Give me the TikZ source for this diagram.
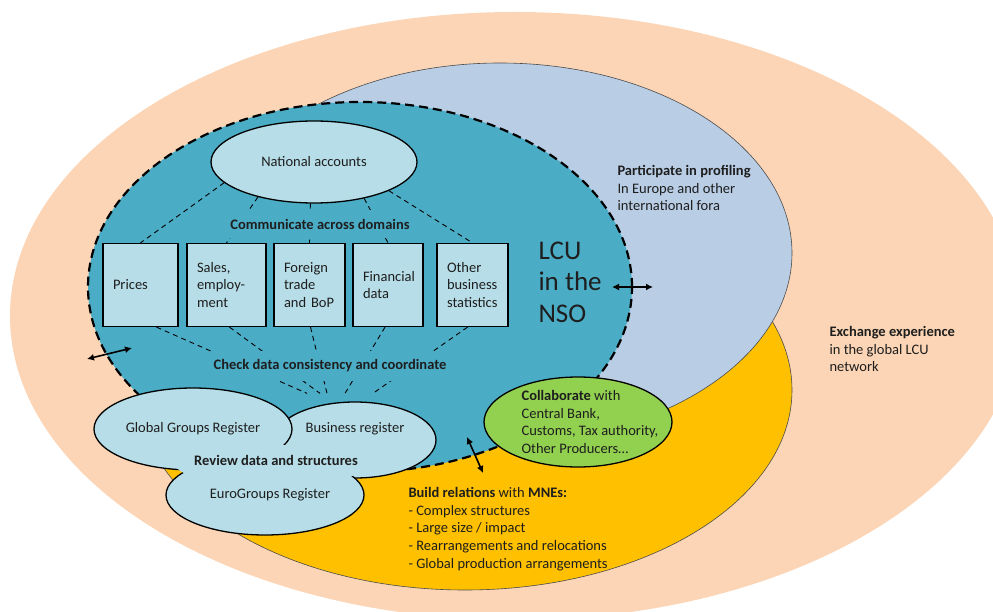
\documentclass[tikz,border=0pt]{standalone}
\usepackage{fontspec}
\setmainfont{Carlito}
\usepackage{tikz}
\usetikzlibrary{shapes.geometric, arrows.meta}

\definecolor{peach}{HTML}{FBD5B5}
\definecolor{bluegray}{HTML}{B9CDE5}
\definecolor{amber}{HTML}{FFC000}
\definecolor{teal}{HTML}{4BACC6}
\definecolor{lteal}{HTML}{B7DEE8}
\definecolor{lgreen}{HTML}{92D050}
\definecolor{txt}{HTML}{1E1E1E}

\begin{document}
\begin{tikzpicture}[x=1pt, y=-1pt, >={Latex[length=7pt, width=7pt]}, text=txt,
	font=\fontsize{14.5}{17.8}\selectfont,
	regell/.style={ellipse, draw=black, line width=1.3pt, fill=lteal, inner sep=0pt},
	dombox/.style={rectangle, draw=black, line width=1.3pt, fill=lteal, minimum height=83pt, inner xsep=10pt, inner ysep=0pt, align=left},
	conn/.style={black, line width=0.9pt, dash pattern=on 5pt off 4pt},
	mask/.style={fill=teal, font=\fontsize{14.5}{17.8}\selectfont\bfseries, inner xsep=2pt, inner ysep=9pt},
	twoway/.style={<->, black, line width=1.6pt}]
			\useasboundingbox (0,0) rectangle (993,612);
			
			% Rings
			\fill[peach] (515,316) ellipse [x radius=505pt, y radius=304pt];
			\draw[black!70, line width=0.6pt, fill=amber] (465,390) ellipse [x radius=327pt, y radius=200pt];
			\draw[black!70, line width=0.6pt, fill=bluegray] (500,253) ellipse [x radius=292pt, y radius=190pt];
			\draw[black, line width=2.2pt, dash pattern=on 9pt off 5pt, fill=teal] (360,287) ellipse [x radius=272pt, y radius=185pt];
			
			% Domains
			\node[regell, minimum width=206pt, minimum height=82pt] (na) at (314,162) {National accounts};
			\node[dombox, text width=55pt] (prices) at (140.5,285) {Prices};
			\node[dombox, text width=59pt] (sales) at (226.5,285) {Sales,\\employ-\\ment};
			\node[dombox, text width=51pt] (foreign) at (309.5,285) {Foreign\\trade\\and BoP};
			\node[dombox, text width=50pt] (fin) at (388,285) {Financial\\data};
			\node[dombox, text width=51pt] (other) at (472.5,285) {Other\\business\\statistics};
			
			% Registers
			\node[regell, minimum width=162pt, minimum height=76pt, label={[yshift=11pt]center:Business register}] (br) at (355,440) {};
			\node[regell, minimum width=198pt, minimum height=82pt] (ggr) at (193,429) {Global Groups Register};
			\node[regell, minimum width=198pt, minimum height=80pt] (egr) at (265,495) {\hspace*{10pt}EuroGroups Register};
			\fill[lteal] (272,465) ellipse [x radius=96pt, y radius=20pt];
			\node[font=\fontsize{14.5}{17.8}\selectfont\bfseries] (review) at (276,460) {Review data and structures};
			
			% Dashed links
			\foreach \b/\a in {prices/193, sales/212, foreign/265, fin/324, other/339} {
				\draw[conn] (na.\a) -- (\b.north);
			}
			\foreach \b/\s/\e in {prices/16/-48, sales/3/-35, foreign/1/-28, fin/-3/-10, other/-5/18} {
				\draw[conn] ([xshift=\s pt]\b.south) -- ([xshift=\e pt, yshift=8pt]br.north);
			}
			\node[mask] (comm) at (320,224) {Communicate across domains};
			\node[mask] (check) at (330,366) {Check data consistency and coordinate};
			
			% Partners
			\node[regell, fill=lgreen, minimum width=188pt, minimum height=90pt,
				label={[align=left, xshift=12pt]center:{\textbf{Collaborate} with\\Central Bank,\\Customs, Tax authority,\\Other Producers\ldots}}] (collab) at (578,422) {};
			
			% Ring texts
			\node[anchor=west, font=\fontsize{27}{31.5}\selectfont, align=left] (lcu) at (535,282) {LCU\\in the\\NSO};
			\node[anchor=west, align=left] (prof) at (614,188) {\textbf{Participate in profiling}\\In Europe and other\\international fora};
			\node[anchor=west, align=left] (exch) at (826,349) {\textbf{Exchange experience}\\in the global LCU\\network};
			\node[anchor=west, align=left] (mne) at (405,529) {\textbf{Build relations} with \textbf{MNEs:}\\- Complex structures\\- Large size / impact\\- Rearrangements and relocations\\- Global production arrangements};
			
			% Exchange arrows
			\coordinate (l1) at (87,359);
			\coordinate (l2) at (132,348);
			\coordinate (r1) at (612,287);
			\coordinate (r2) at (653,287);
			\coordinate (b1) at (467,437);
			\coordinate (b2) at (483,473);
			\draw[twoway] (l1) -- (l2);
			\draw[twoway] (r1) -- (r2);
			\draw[twoway] (b1) -- (b2);
			
		\end{tikzpicture}
\end{document}
